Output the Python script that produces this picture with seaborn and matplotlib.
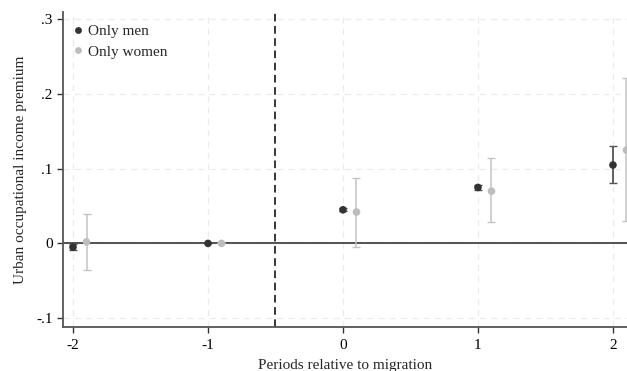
import matplotlib
matplotlib.use("Agg")
import matplotlib.pyplot as plt
import seaborn as sns
import pandas as pd
import numpy as np

periods = [-2, -1, 0, 1, 2]
men_est = [-0.005, 0.0, 0.045, 0.075, 0.105]
men_lo = [-0.009, 0.0, 0.043, 0.072, 0.081]
men_hi = [-0.001, 0.0, 0.047, 0.078, 0.130]
women_est = [0.002, 0.0, 0.042, 0.070, 0.125]
women_lo = [-0.036, 0.0, -0.005, 0.028, 0.030]
women_hi = [0.040, 0.0, 0.088, 0.114, 0.221]
offset_women = 0.1

ytick_vals = [-0.1, 0, 0.1, 0.2, 0.3]
ytick_labels = ["-.1", "0", ".1", ".2", ".3"]

sns.set_theme(style="white")
plt.rcParams['font.family'] = ['Liberation Serif', 'DejaVu Serif']

men = pd.DataFrame({"x": periods, "y": men_est, "lo": men_lo, "hi": men_hi, "group": "Only men"})
women = pd.DataFrame({"x": [p + offset_women for p in periods], "y": women_est,
                      "lo": women_lo, "hi": women_hi, "group": "Only women"})
df = pd.concat([men, women], ignore_index=True)

fig = plt.figure(figsize=(6.27, 3.71), dpi=100)
ax = fig.add_axes([0.1005, 0.1186, 0.8995, 0.8491])

ax.grid(True, color="#ececec", linestyle=(0, (5, 4)), linewidth=0.9)
ax.set_axisbelow(True)

ax.axhline(0, color="#444444", linewidth=1.3, zorder=1)
ax.axvline(-0.5, color="black", linewidth=1.1, linestyle=(0, (5, 3)), zorder=1)

colors = {"Only men": "#333333", "Only women": "#bdbdbd"}
ecolors = {"Only men": "#555555", "Only women": "#c4c4c4"}
for g, sub in df.groupby("group"):
    ax.errorbar(sub["x"], sub["y"], yerr=[sub["y"] - sub["lo"], sub["hi"] - sub["y"]],
                fmt="none", ecolor=ecolors[g], elinewidth=1.3 if g == "Only men" else 1.1,
                capsize=3, capthick=1.0, zorder=2, clip_on=True)

sns.scatterplot(data=df, x="x", y="y", hue="group", palette=colors, s=30,
                edgecolor="none", ax=ax, zorder=3, legend=True)

ax.set_xlim(-2.074, 2.104)
ax.set_ylim(-0.112, 0.31)
ax.set_xticks(periods)
ax.set_xticklabels([str(p) for p in periods])
ax.set_yticks(ytick_vals)
ax.set_yticklabels(ytick_labels)
ax.tick_params(axis="both", which="both", bottom=True, left=True, length=4.5, width=1,
               color="#333333", labelsize=11, labelcolor="black", pad=3)
ax.tick_params(axis="x", pad=4.5)

for s in ["top", "right"]:
    ax.spines[s].set_visible(False)
for s in ["left", "bottom"]:
    ax.spines[s].set_color("#555555")
    ax.spines[s].set_linewidth(1.3)

ax.set_xlabel("Periods relative to migration", fontsize=11)
ax.set_ylabel("Urban occupational income premium", fontsize=11)
ax.xaxis.set_label_coords(0.5, -0.100)
ax.yaxis.set_label_coords(-0.063, 0.5)

leg = ax.legend(loc="upper left", bbox_to_anchor=(0.0, 0.99), frameon=False, fontsize=11,
                handlelength=0.8, handletextpad=0.25, borderaxespad=0, borderpad=0.6,
                labelspacing=0.45, markerscale=0.9)

fig.savefig("out.png", dpi=100)
